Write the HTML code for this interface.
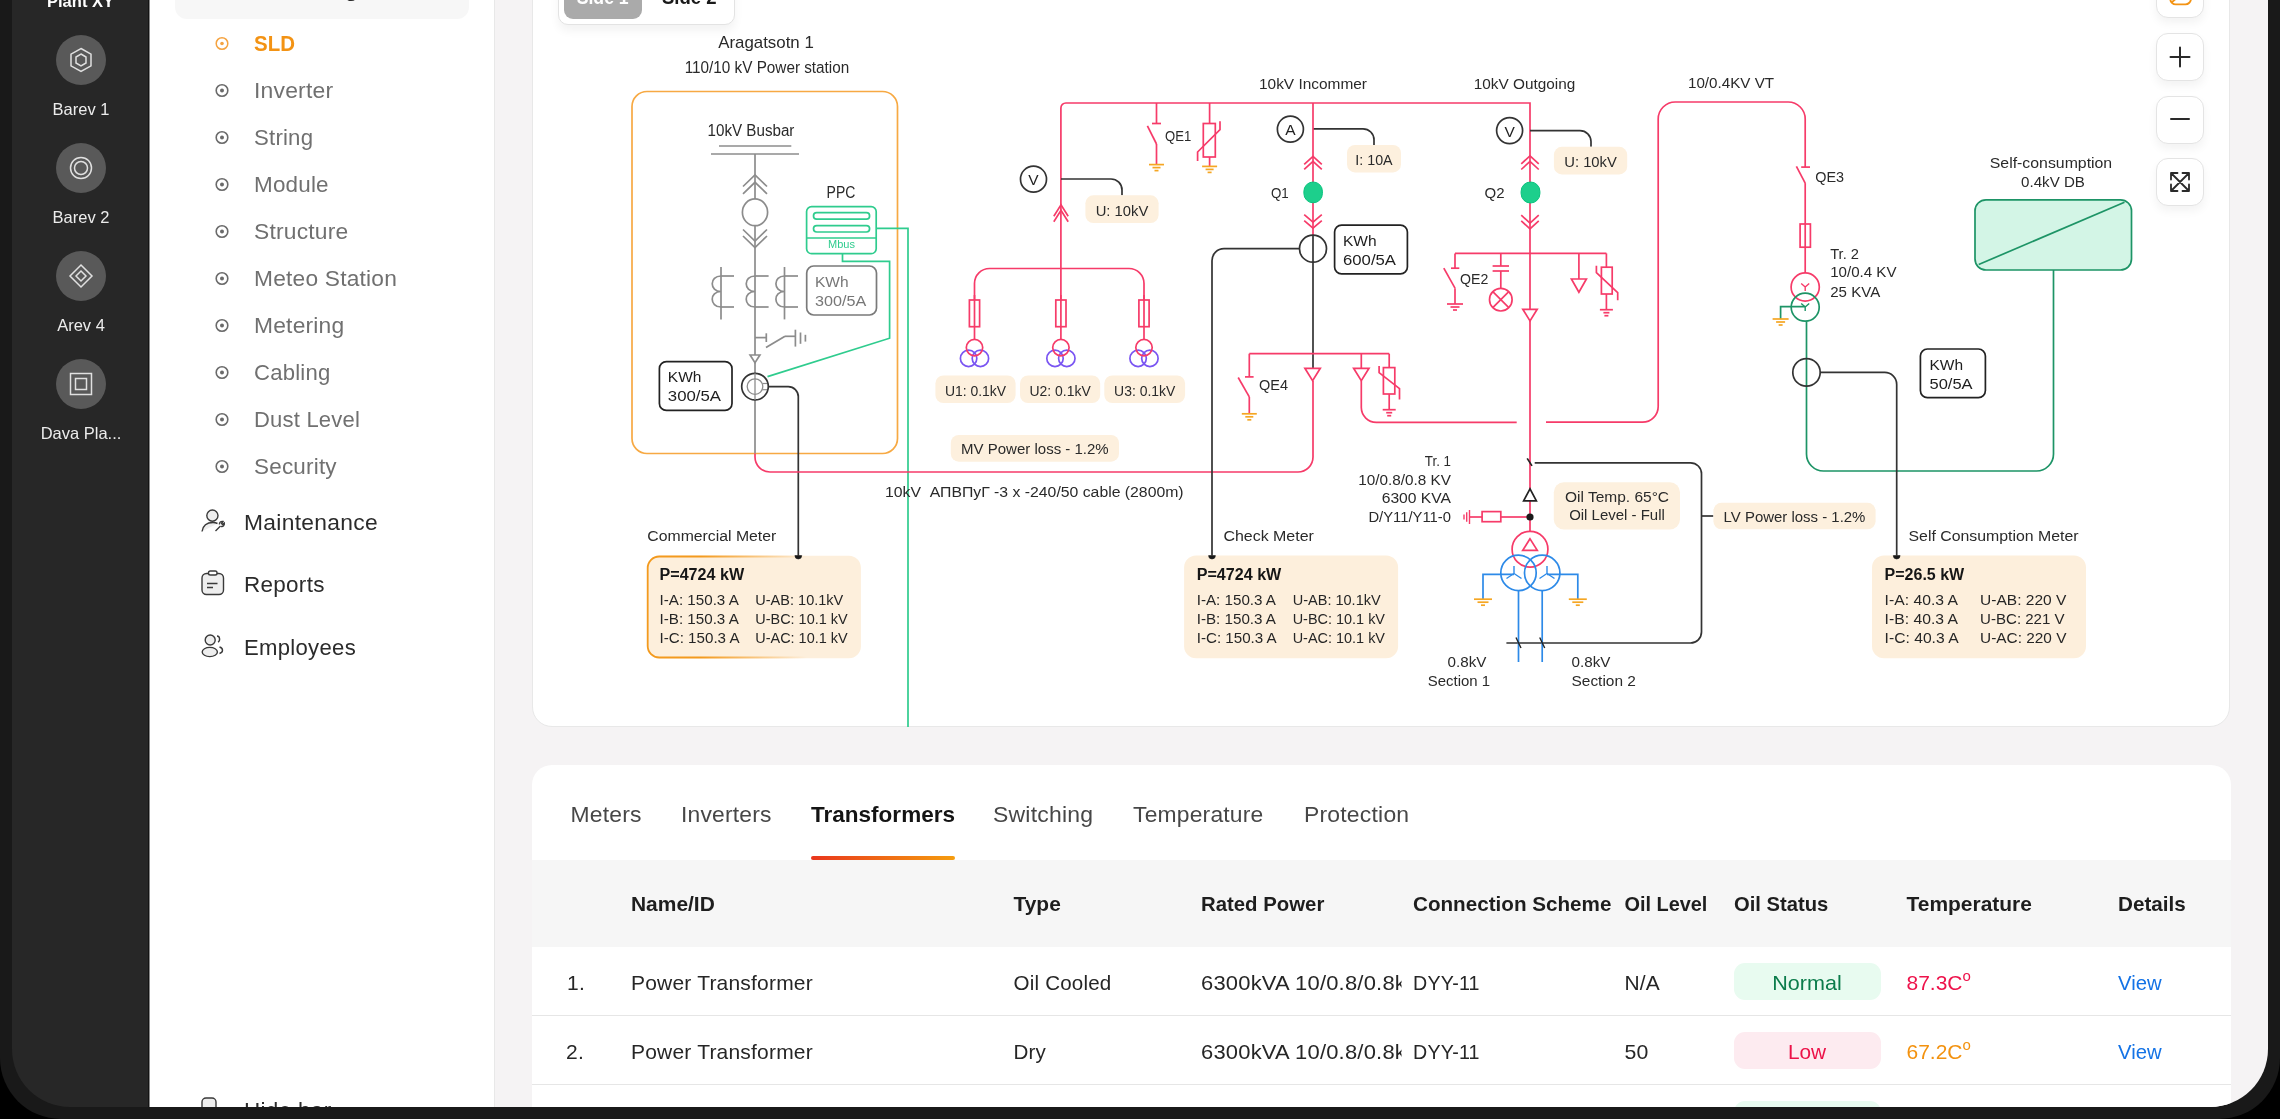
<!DOCTYPE html>
<html><head><meta charset="utf-8">
<style>
*{margin:0;padding:0;box-sizing:border-box}
html,body{width:2280px;height:1119px;overflow:hidden;background:#000;font-family:"Liberation Sans",sans-serif}
.frame{position:absolute;left:0;top:-200px;width:2280px;height:1319px;border-radius:61px;background:#191919}
.screen{position:absolute;left:12px;top:-200px;width:2256px;height:1307px;border-radius:58px;overflow:hidden}
.c{position:absolute;left:-12px;top:200px;width:2280px;height:1119px}
.abs{position:absolute}
.side{left:12px;top:0;width:137px;height:1119px;background:#272727;border-right:1px solid #141414}
.nav{left:149px;top:0;width:346px;height:1119px;background:#fff;border-left:1px solid #8a8a8a;border-right:1.5px solid #e8e8e8}
.card{left:532px;top:-40px;width:1698px;height:767px;background:#fff;border:1.5px solid #e8e8e8;border-radius:20px}
.tcard{left:532px;top:765px;width:1699px;height:400px;background:#fff;border-radius:20px;overflow:hidden}
.thbg{left:532px;top:859.5px;width:1699px;height:87px;background:#f6f6f6}
.rl{left:532px;width:1699px;height:1.5px;background:#e6e6e6}
.zb{position:absolute;left:2156px;width:48px;height:48px;border-radius:12px;background:#fff;border:1px solid #e4e4e4;box-shadow:0 5px 10px rgba(0,0,0,0.05)}
.pill{position:absolute;left:1733.5px;width:147.5px;height:37px;border-radius:11px}
svg text{font-family:"Liberation Sans",sans-serif}
svg.abs{will-change:transform}
</style></head><body>
<div class="frame"></div>
<div class="screen"><div class="c">
<div class="abs" style="left:480px;top:-10px;width:1800px;height:1140px;background:#f5f3f4"></div>
<div class="abs side"></div>
<div class="abs nav"></div>
<div class="abs" style="left:175px;top:-40px;width:294px;height:59px;border-radius:12px;background:#f7f7f7"></div>
<div class="abs card"></div>
<div class="abs tcard"></div>
<div class="abs thbg"></div>
<div class="abs rl" style="top:1014.5px"></div>
<div class="abs rl" style="top:1083.5px"></div>
<div class="pill" style="top:963px;background:#e8fbf0"></div>
<div class="pill" style="top:1032px;background:#fdebf0"></div>
<div class="pill" style="top:1101px;background:#e8fbf0"></div>
<div class="abs" style="left:811px;top:856px;width:144px;height:3.5px;border-radius:2px;background:linear-gradient(90deg,#e9361d,#f59d0e)"></div>
<!-- toggle -->
<div class="abs" style="left:558px;top:-30px;width:177px;height:54.5px;border-radius:10px;background:#fff;border:1px solid #e3e3e3;box-shadow:0 6px 10px rgba(0,0,0,0.05)"></div>
<div class="abs" style="left:563.6px;top:-30px;width:78px;height:49.3px;border-radius:9px;background:#aaaaaa"></div>
<!-- zoom buttons -->
<div class="zb" style="top:-29.6px"></div>
<div class="zb" style="top:33px"></div>
<div class="zb" style="top:95.5px"></div>
<div class="zb" style="top:158px"></div>

<svg class="abs" style="left:0;top:0" width="2280" height="1119" viewBox="0 0 2280 1119">
<defs><clipPath id="cl1"><rect x="1190" y="900" width="211.5" height="220"/></clipPath></defs>
<!-- UI text -->
<g font-family="Liberation Sans, sans-serif">
<text x="80.5" y="6.6" font-size="16.5" font-weight="bold" fill="#fff" text-anchor="middle">Plant XY</text>
<g fill="#595959"><circle cx="81" cy="60" r="25"/><circle cx="81" cy="168" r="25"/><circle cx="81" cy="276" r="25"/><circle cx="81" cy="384" r="25"/></g>
<g stroke="#e0e0e0" stroke-width="1.5" fill="none">
<polygon points="81,48.5 91,54.2 91,65.8 81,71.5 71,65.8 71,54.2"/>
<polygon points="81,54 86,57 86,63 81,66 76,63 76,57"/>
<circle cx="81" cy="168" r="10.5"/><circle cx="81" cy="168" r="6.5"/>
<polygon points="81,265 92,276 81,287 70,276"/><polygon points="81,271 86,276 81,281 76,276"/>
<rect x="70.5" y="373.5" width="21" height="21"/><rect x="75.5" y="378.5" width="11" height="11"/>
</g>
<g fill="#ececec" font-size="16.5" text-anchor="middle">
<text x="81" y="115">Barev 1</text><text x="81" y="223">Barev 2</text><text x="81" y="331">Arev 4</text><text x="81" y="439">Dava Pla...</text>
</g>
<!-- nav -->
<text x="245" y="-3.9" font-size="22.5" font-weight="bold" fill="#2b2b2b" textLength="113" lengthAdjust="spacingAndGlyphs">Monitoring</text>
<text x="254" y="51.2" font-size="22" font-weight="bold" fill="#f39314" textLength="40.9" lengthAdjust="spacingAndGlyphs">SLD</text>
<circle cx="222" cy="43.5" r="5.8" stroke="#f5a340" stroke-width="1.5" fill="none"/><circle cx="222" cy="43.5" r="1.8" fill="#f5a340"/>
<g fill="#707070" font-size="22" letter-spacing="0.2">
<text x="254" y="97.8" textLength="79.3" lengthAdjust="spacingAndGlyphs">Inverter</text><text x="254" y="144.8" textLength="59.2" lengthAdjust="spacingAndGlyphs">String</text><text x="254" y="191.8" textLength="74.8" lengthAdjust="spacingAndGlyphs">Module</text><text x="254" y="238.8" textLength="94.4" lengthAdjust="spacingAndGlyphs">Structure</text><text x="254" y="285.8" textLength="143.1" lengthAdjust="spacingAndGlyphs">Meteo Station</text><text x="254" y="332.8" textLength="90.4" lengthAdjust="spacingAndGlyphs">Metering</text><text x="254" y="379.8" textLength="76.4" lengthAdjust="spacingAndGlyphs">Cabling</text><text x="254" y="426.8" textLength="106.1" lengthAdjust="spacingAndGlyphs">Dust Level</text><text x="254" y="473.8" textLength="82.8" lengthAdjust="spacingAndGlyphs">Security</text>
</g>
<g stroke="#6a6a6a" stroke-width="1.6" fill="none">
<circle cx="222" cy="90.5" r="5.8"/><circle cx="222" cy="137.5" r="5.8"/><circle cx="222" cy="184.5" r="5.8"/><circle cx="222" cy="231.5" r="5.8"/><circle cx="222" cy="278.5" r="5.8"/><circle cx="222" cy="325.5" r="5.8"/><circle cx="222" cy="372.5" r="5.8"/><circle cx="222" cy="419.5" r="5.8"/><circle cx="222" cy="466.5" r="5.8"/>
</g>
<g fill="#6a6a6a">
<circle cx="222" cy="90.5" r="2"/><circle cx="222" cy="137.5" r="2"/><circle cx="222" cy="184.5" r="2"/><circle cx="222" cy="231.5" r="2"/><circle cx="222" cy="278.5" r="2"/><circle cx="222" cy="325.5" r="2"/><circle cx="222" cy="372.5" r="2"/><circle cx="222" cy="419.5" r="2"/><circle cx="222" cy="466.5" r="2"/>
</g>
<g fill="#2b2b2b" font-size="22.5" letter-spacing="0.3">
<text x="244" y="530" textLength="134" lengthAdjust="spacingAndGlyphs">Maintenance</text><text x="244" y="592" textLength="80.7" lengthAdjust="spacingAndGlyphs">Reports</text><text x="244" y="655" textLength="112" lengthAdjust="spacingAndGlyphs">Employees</text><text x="244" y="1117.5">Hide bar</text>
</g>
<g stroke="#3a3a3a" stroke-width="1.4" fill="none">
<!-- maintenance icon -->
<circle cx="212.4" cy="515.6" r="5.6" fill="#eee"/>
<path d="M202,531.5 C203,525 208,522.5 213,522.5 C215,522.5 216.5,523 217.5,523.5" fill="#eee"/>
<path d="M215.5,531 L220.5,526 M219.5,524.5 C219,522.5 221,521 223,521.5 L221.5,523.5 L222.5,524.5 L224.3,523 C224.8,525 223,527 221,526.3"/>
<!-- reports icon -->
<rect x="202" y="573.5" width="21.5" height="21" rx="4.5" fill="#eee"/>
<rect x="208.5" y="571" width="8.5" height="4" rx="1.8" fill="#fff"/>
<path d="M207,583.5 H217.5 M207,587.5 H213"/>
<!-- employees icon -->
<circle cx="210.2" cy="640" r="5" fill="#eee"/>
<ellipse cx="209.8" cy="652" rx="7.6" ry="4.6" fill="#eee"/>
<path d="M217,636 C220,636 220.5,641 218,642 M219.5,647 C223.5,648 223.5,652.5 219.5,653.5"/>
<!-- hide bar icon -->
<rect x="202" y="1098" width="14" height="24" rx="4" fill="#eee"/>
</g>
<!-- toggle text -->
<text x="576.7" y="4" font-size="20" font-weight="bold" fill="#fff" textLength="52" lengthAdjust="spacingAndGlyphs">Side 1</text>
<text x="662" y="4" font-size="20" font-weight="bold" fill="#1a1a1a" textLength="54.6" lengthAdjust="spacingAndGlyphs">Side 2</text>
<!-- zoom icons -->
<g stroke="#2a2a2a" stroke-width="2" fill="none" stroke-linecap="round">
<path d="M2180,47.5 V66.5 M2170.5,57 H2189.5"/>
<path d="M2171,119 H2189"/>
<path stroke-width="1.8" d="M2171,173 L2189,191 M2189,173 L2171,191 M2171,173 V179.5 M2171,173 H2177.5 M2189,173 H2182.5 M2189,173 V179.5 M2171,191 V184.5 M2171,191 H2177.5 M2189,191 H2182.5 M2189,191 V184.5"/>
</g>
<path d="M2170.3,-4 V-1 A5.5,5.5 0 0 0 2175.8,4.4 H2185.4 A5.5,5.5 0 0 0 2190.9,-1.1 V-5 M2172.6,1.6 L2175.6,-1" stroke="#f39314" stroke-width="1.9" fill="none" stroke-linecap="round"/>
<!-- tabs -->
<g font-size="22.5" fill="#474747" letter-spacing="0.2">
<text x="570.5" y="821.5" textLength="71.2" lengthAdjust="spacingAndGlyphs">Meters</text><text x="681" y="821.5" textLength="90.6" lengthAdjust="spacingAndGlyphs">Inverters</text><text x="993" y="821.5" textLength="100.2" lengthAdjust="spacingAndGlyphs">Switching</text><text x="1133" y="821.5" textLength="130.5" lengthAdjust="spacingAndGlyphs">Temperature</text><text x="1304" y="821.5" textLength="105.3" lengthAdjust="spacingAndGlyphs">Protection</text>
</g>
<text x="811" y="821.5" font-size="22.5" font-weight="bold" fill="#141414" textLength="144" lengthAdjust="spacingAndGlyphs">Transformers</text>
<!-- table -->
<g font-size="21" font-weight="bold" fill="#1e1e1e">
<text x="631" y="911" textLength="83.8" lengthAdjust="spacingAndGlyphs">Name/ID</text><text x="1013.5" y="911" textLength="47.3" lengthAdjust="spacingAndGlyphs">Type</text><text x="1201" y="911" textLength="123.3" lengthAdjust="spacingAndGlyphs">Rated Power</text><text x="1413" y="911" textLength="198.4" lengthAdjust="spacingAndGlyphs">Connection Scheme</text><text x="1624.5" y="911" textLength="82.9" lengthAdjust="spacingAndGlyphs">Oil Level</text><text x="1734" y="911" textLength="94.3" lengthAdjust="spacingAndGlyphs">Oil Status</text><text x="1906.5" y="911" textLength="125.4" lengthAdjust="spacingAndGlyphs">Temperature</text><text x="2118" y="911" textLength="67.8" lengthAdjust="spacingAndGlyphs">Details</text>
</g>
<g font-size="21" fill="#262626" letter-spacing="0.2">
<text x="567" y="989.6">1.</text><text x="631" y="989.6" textLength="181.9" lengthAdjust="spacingAndGlyphs">Power Transformer</text><text x="1013.5" y="989.6" textLength="98" lengthAdjust="spacingAndGlyphs">Oil Cooled</text><text x="1201" y="989.6" clip-path="url(#cl1)" textLength="205" lengthAdjust="spacingAndGlyphs">6300kVA 10/0.8/0.8k</text><text x="1413" y="989.6" textLength="66.7" lengthAdjust="spacingAndGlyphs">DYY-11</text><text x="1624.5" y="989.6" textLength="35.5" lengthAdjust="spacingAndGlyphs">N/A</text>
<text x="566" y="1058.6">2.</text><text x="631" y="1058.6" textLength="181.9" lengthAdjust="spacingAndGlyphs">Power Transformer</text><text x="1013.5" y="1058.6" textLength="32.6" lengthAdjust="spacingAndGlyphs">Dry</text><text x="1201" y="1058.6" clip-path="url(#cl1)" textLength="205" lengthAdjust="spacingAndGlyphs">6300kVA 10/0.8/0.8k</text><text x="1413" y="1058.6" textLength="66.7" lengthAdjust="spacingAndGlyphs">DYY-11</text><text x="1624.5" y="1058.6" textLength="24.1" lengthAdjust="spacingAndGlyphs">50</text>
</g>

<text x="1807" y="989.6" font-size="21" fill="#0b7c4b" text-anchor="middle" textLength="69.5" lengthAdjust="spacingAndGlyphs">Normal</text>
<text x="1807" y="1058.6" font-size="21" fill="#ec1248" text-anchor="middle" textLength="38.2" lengthAdjust="spacingAndGlyphs">Low</text>
<text x="1906.5" y="989.6" font-size="21" fill="#ee134b">87.3C<tspan dy="-8.5" font-size="15">o</tspan></text>
<text x="1906.5" y="1058.6" font-size="21" fill="#f3920f">67.2C<tspan dy="-8.5" font-size="15">o</tspan></text>
<text x="2118" y="989.6" font-size="21" fill="#1473e6" textLength="43.6" lengthAdjust="spacingAndGlyphs">View</text>
<text x="2118" y="1058.6" font-size="21" fill="#1473e6" textLength="43.6" lengthAdjust="spacingAndGlyphs">View</text>
</g>
<!-- DIAGRAM -->
<g font-family="Liberation Sans, sans-serif">
<defs><linearGradient id="ogr" x1="0" y1="0" x2="1" y2="0"><stop offset="0" stop-color="#f39a1e"/><stop offset="0.25" stop-color="#f39a1e"/><stop offset="0.75" stop-color="#f39a1e" stop-opacity="0"/></linearGradient></defs>
<text x="766" y="48.3" font-size="17" fill="#2a2a2a" text-anchor="middle" font-weight="normal" letter-spacing="0"  textLength="95.7" lengthAdjust="spacingAndGlyphs">Aragatsotn 1</text>
<text x="767" y="72.9" font-size="16" fill="#2a2a2a" text-anchor="middle" font-weight="normal" letter-spacing="0"  textLength="164.5" lengthAdjust="spacingAndGlyphs">110/10 kV Power station</text>
<rect x="632" y="91.5" width="265.5" height="362" rx="15" stroke="#f7a943" fill="none" stroke-width="1.7"/>
<text x="751" y="135.5" font-size="16" fill="#2a2a2a" text-anchor="middle" font-weight="normal" letter-spacing="0"  textLength="86.8" lengthAdjust="spacingAndGlyphs">10kV Busbar</text>
<line x1="719" y1="146" x2="791.3" y2="146" stroke="#8c8c8c" stroke-width="1.7"/>
<line x1="711" y1="154" x2="799" y2="154" stroke="#8c8c8c" stroke-width="1.7"/>
<line x1="755" y1="154" x2="755" y2="453.6" stroke="#8c8c8c" stroke-width="1.7"/>
<path d="M743,186.5 L755,175 L767,186.5" stroke="#8c8c8c" stroke-width="1.7" fill="none"/>
<path d="M743,193.8 L755,182.3 L767,193.8" stroke="#8c8c8c" stroke-width="1.7" fill="none"/>
<ellipse cx="755" cy="212.3" rx="12.6" ry="13.4" stroke="#8c8c8c" fill="#fff" stroke-width="1.7"/>
<path d="M743,229.5 L755,241 L767,229.5" stroke="#8c8c8c" stroke-width="1.7" fill="none"/>
<path d="M743,236.0 L755,247.5 L767,236.0" stroke="#8c8c8c" stroke-width="1.7" fill="none"/>
<line x1="721" y1="267" x2="721" y2="319.4" stroke="#8c8c8c" stroke-width="1.7"/>
<path d="M721,276 C709.3,276 709.3,291.5 721,291.5 C709.3,291.5 709.3,307 721,307" stroke="#8c8c8c" stroke-width="1.7" fill="none"/>
<line x1="721" y1="276" x2="734" y2="276" stroke="#8c8c8c" stroke-width="1.7"/>
<line x1="721" y1="307" x2="734" y2="307" stroke="#8c8c8c" stroke-width="1.7"/>
<path d="M755,276 C743.3,276 743.3,291.5 755,291.5 C743.3,291.5 743.3,307 755,307" stroke="#8c8c8c" stroke-width="1.7" fill="none"/>
<line x1="755" y1="276" x2="768.6" y2="276" stroke="#8c8c8c" stroke-width="1.7"/>
<line x1="755" y1="307" x2="768.6" y2="307" stroke="#8c8c8c" stroke-width="1.7"/>
<line x1="784.5" y1="267" x2="784.5" y2="319.4" stroke="#8c8c8c" stroke-width="1.7"/>
<path d="M784.5,276 C773.06,276 773.06,291.5 784.5,291.5 C773.06,291.5 773.06,307 784.5,307" stroke="#8c8c8c" stroke-width="1.7" fill="none"/>
<line x1="784.5" y1="276" x2="798.0" y2="276" stroke="#8c8c8c" stroke-width="1.7"/>
<line x1="784.5" y1="307" x2="798.0" y2="307" stroke="#8c8c8c" stroke-width="1.7"/>
<rect x="806.7" y="266" width="69.8" height="49" rx="7" stroke="#7a7a7a" fill="#fff" stroke-width="1.7"/>
<text x="815" y="286.6" font-size="15.5" fill="#777" text-anchor="start" font-weight="normal" letter-spacing="0" >KWh</text>
<text x="815" y="305.7" font-size="15.5" fill="#777" text-anchor="start" font-weight="normal" letter-spacing="0"  textLength="51.2" lengthAdjust="spacingAndGlyphs">300/5A</text>
<line x1="755" y1="337.6" x2="766.3" y2="337.6" stroke="#8c8c8c" stroke-width="1.7"/>
<line x1="766.3" y1="333.3" x2="766.3" y2="342" stroke="#8c8c8c" stroke-width="1.7"/>
<line x1="766" y1="347.6" x2="785" y2="336.3" stroke="#8c8c8c" stroke-width="1.7"/>
<line x1="785" y1="336.3" x2="795.4" y2="336.3" stroke="#8c8c8c" stroke-width="1.7"/>
<line x1="795.4" y1="329.7" x2="795.4" y2="346.6" stroke="#8c8c8c" stroke-width="1.7"/>
<line x1="800.5" y1="332.5" x2="800.5" y2="343.8" stroke="#8c8c8c" stroke-width="1.7"/>
<line x1="805.4" y1="334.8" x2="805.4" y2="341.6" stroke="#8c8c8c" stroke-width="1.7"/>
<polygon points="750.1,355 759.9,355 755,362.6" stroke="#8c8c8c" fill="#fff" stroke-width="1.7"/>
<circle cx="755" cy="386.6" r="13.3" stroke="#333333" fill="#fff" stroke-width="1.7"/>
<circle cx="755" cy="386.6" r="7.8" stroke="#8c8c8c" fill="none" stroke-width="1.3"/>
<line x1="755" y1="373.3" x2="755" y2="399.9" stroke="#8c8c8c" stroke-width="1.3"/>
<line x1="762.5" y1="383.5" x2="767" y2="383.5" stroke="#8c8c8c" stroke-width="1.2"/>
<line x1="762.5" y1="389.7" x2="767" y2="389.7" stroke="#8c8c8c" stroke-width="1.2"/>
<rect x="659.4" y="361.6" width="72.6" height="48.8" rx="7" stroke="#222" fill="#fff" stroke-width="1.7"/>
<text x="667.8" y="382.3" font-size="15.5" fill="#1e1e1e" text-anchor="start" font-weight="normal" letter-spacing="0" >KWh</text>
<text x="667.8" y="401" font-size="15.5" fill="#1e1e1e" text-anchor="start" font-weight="normal" letter-spacing="0"  textLength="53.2" lengthAdjust="spacingAndGlyphs">300/5A</text>
<path d="M842.5,253.7 V261.3 H889.6 V338.2 L767.5,376.6" stroke="#2fcc8e" stroke-width="1.7" fill="none"/>
<path d="M876.2,228.3 H908 V727" stroke="#2fcc8e" stroke-width="1.7" fill="none"/>
<text x="841" y="197.9" font-size="16" fill="#2a2a2a" text-anchor="middle" font-weight="normal" letter-spacing="0"  textLength="28.8" lengthAdjust="spacingAndGlyphs">PPC</text>
<rect x="806.6" y="206.6" width="69.6" height="47.1" rx="5" stroke="#2fcc8e" fill="#fff" stroke-width="1.7"/>
<rect x="813.5" y="212.7" width="56.1" height="6.4" rx="3.2" stroke="#2fcc8e" fill="none" stroke-width="1.7"/>
<rect x="813.5" y="225.6" width="56.1" height="6.4" rx="3.2" stroke="#2fcc8e" fill="none" stroke-width="1.7"/>
<line x1="806.6" y1="238" x2="876.2" y2="238" stroke="#2fcc8e" stroke-width="1.7"/>
<text x="841.5" y="248.3" font-size="11" fill="#2fcc8e" text-anchor="middle" font-weight="normal" letter-spacing="0" >Mbus</text>
<path d="M768.3,386.6 H788.3 A10,10 0 0 1 798.3,396.6 V556" stroke="#333333" stroke-width="1.7" fill="none"/>
<path d="M755,453.6 V457 A15,15 0 0 0 770,472 H1298 A15,15 0 0 0 1313,457 V380.7" stroke="#f63b69" stroke-width="1.7" fill="none"/>
<path d="M1060.9,300 V108 A5,5 0 0 1 1065.9,103 H1530 V531.3" stroke="#f63b69" stroke-width="1.7" fill="none"/>
<circle cx="1033.5" cy="179.2" r="13" stroke="#333333" fill="#fff" stroke-width="1.7"/>
<text x="1033.5" y="185.3" font-size="15.5" fill="#222" text-anchor="middle" font-weight="normal" letter-spacing="0" >V</text>
<path d="M1061,179 H1111 A11,11 0 0 1 1122,190 V195.3" stroke="#333333" stroke-width="1.7" fill="none"/>
<rect x="1085.4" y="195.3" width="73.2" height="27.7" rx="8" stroke="none" fill="#fdf0de" stroke-width="1.7"/>
<text x="1122.0" y="215.5" font-size="15.5" fill="#2a2a2a" text-anchor="middle" font-weight="normal" letter-spacing="0"  textLength="52.6" lengthAdjust="spacingAndGlyphs">U: 10kV</text>
<path d="M1053.8,216.3 L1061,204.8 L1068.2,216.3" stroke="#f63b69" stroke-width="1.7" fill="none"/>
<path d="M1053.8,221.8 L1061,210.3 L1068.2,221.8" stroke="#f63b69" stroke-width="1.7" fill="none"/>
<path d="M974.5,300 V283.5 A15,15 0 0 1 989.5,268.5 H1129 A15,15 0 0 1 1144,283.5 V300" stroke="#f63b69" stroke-width="1.7" fill="none"/>
<rect x="969.4" y="300" width="10.2" height="26.7" rx="0" stroke="#f63b69" fill="none" stroke-width="1.7"/>
<line x1="974.5" y1="295" x2="974.5" y2="339.4" stroke="#f63b69" stroke-width="1.7"/>
<circle cx="968.6" cy="358.4" r="8.2" stroke="#7a55f2" fill="none" stroke-width="1.7"/>
<circle cx="980.4" cy="358.4" r="8.2" stroke="#7a55f2" fill="none" stroke-width="1.7"/>
<circle cx="974.5" cy="347.6" r="8.2" stroke="#f63b69" fill="none" stroke-width="1.7"/>
<rect x="1055.8000000000002" y="300" width="10.2" height="26.7" rx="0" stroke="#f63b69" fill="none" stroke-width="1.7"/>
<line x1="1060.9" y1="295" x2="1060.9" y2="339.4" stroke="#f63b69" stroke-width="1.7"/>
<circle cx="1055.0" cy="358.4" r="8.2" stroke="#7a55f2" fill="none" stroke-width="1.7"/>
<circle cx="1066.8000000000002" cy="358.4" r="8.2" stroke="#7a55f2" fill="none" stroke-width="1.7"/>
<circle cx="1060.9" cy="347.6" r="8.2" stroke="#f63b69" fill="none" stroke-width="1.7"/>
<rect x="1138.9" y="300" width="10.2" height="26.7" rx="0" stroke="#f63b69" fill="none" stroke-width="1.7"/>
<line x1="1144" y1="295" x2="1144" y2="339.4" stroke="#f63b69" stroke-width="1.7"/>
<circle cx="1138.1" cy="358.4" r="8.2" stroke="#7a55f2" fill="none" stroke-width="1.7"/>
<circle cx="1149.9" cy="358.4" r="8.2" stroke="#7a55f2" fill="none" stroke-width="1.7"/>
<circle cx="1144" cy="347.6" r="8.2" stroke="#f63b69" fill="none" stroke-width="1.7"/>
<rect x="935.4" y="375.4" width="80.2" height="27.7" rx="8" stroke="none" fill="#fdf0de" stroke-width="1.7"/>
<text x="975.5" y="395.59999999999997" font-size="15.5" fill="#2a2a2a" text-anchor="middle" font-weight="normal" letter-spacing="0"  textLength="61.2" lengthAdjust="spacingAndGlyphs">U1: 0.1kV</text>
<rect x="1020" y="375.4" width="80.2" height="27.7" rx="8" stroke="none" fill="#fdf0de" stroke-width="1.7"/>
<text x="1060.1" y="395.59999999999997" font-size="15.5" fill="#2a2a2a" text-anchor="middle" font-weight="normal" letter-spacing="0"  textLength="61.2" lengthAdjust="spacingAndGlyphs">U2: 0.1kV</text>
<rect x="1104.3" y="375.4" width="80.8" height="27.7" rx="8" stroke="none" fill="#fdf0de" stroke-width="1.7"/>
<text x="1144.7" y="395.59999999999997" font-size="15.5" fill="#2a2a2a" text-anchor="middle" font-weight="normal" letter-spacing="0"  textLength="61.2" lengthAdjust="spacingAndGlyphs">U3: 0.1kV</text>
<rect x="950.8" y="435" width="168.2" height="26.7" rx="8" stroke="none" fill="#fdf0de" stroke-width="1.7"/>
<text x="1034.8999999999999" y="454.2" font-size="15.5" fill="#2a2a2a" text-anchor="middle" font-weight="normal" letter-spacing="0"  textLength="147.6" lengthAdjust="spacingAndGlyphs">MV Power loss - 1.2%</text>
<line x1="1156.5" y1="103" x2="1156.5" y2="123.5" stroke="#f63b69" stroke-width="1.7"/>
<line x1="1152" y1="123.5" x2="1161" y2="123.5" stroke="#f63b69" stroke-width="1.7"/>
<line x1="1147.4" y1="125.8" x2="1156.5" y2="144" stroke="#f63b69" stroke-width="1.7"/>
<line x1="1156.5" y1="144" x2="1156.5" y2="164.6" stroke="#f63b69" stroke-width="1.7"/>
<line x1="1149.0" y1="164.6" x2="1164.0" y2="164.6" stroke="#f5a623" stroke-width="1.7"/>
<line x1="1152.5" y1="167.6" x2="1160.5" y2="167.6" stroke="#f5a623" stroke-width="1.7"/>
<line x1="1154.5" y1="170.6" x2="1158.5" y2="170.6" stroke="#f5a623" stroke-width="1.7"/>
<text x="1165" y="141.3" font-size="15.5" fill="#2a2a2a" text-anchor="start" font-weight="normal" letter-spacing="0"  textLength="26.2" lengthAdjust="spacingAndGlyphs">QE1</text>
<line x1="1209.6" y1="103" x2="1209.6" y2="123.5" stroke="#f63b69" stroke-width="1.7"/>
<rect x="1203.3" y="123.5" width="12" height="33.5" rx="0" stroke="#f63b69" fill="#fff" stroke-width="1.7"/>
<line x1="1209.6" y1="157" x2="1209.6" y2="166.4" stroke="#f63b69" stroke-width="1.7"/>
<line x1="1202.1" y1="166.4" x2="1217.1" y2="166.4" stroke="#f5a623" stroke-width="1.7"/>
<line x1="1205.6" y1="169.4" x2="1213.6" y2="169.4" stroke="#f5a623" stroke-width="1.7"/>
<line x1="1207.6" y1="172.4" x2="1211.6" y2="172.4" stroke="#f5a623" stroke-width="1.7"/>
<path d="M1197.6,161 V152 L1220,129.7 V121.3" stroke="#f63b69" stroke-width="1.7" fill="none"/>
<text x="1313" y="88.5" font-size="15.5" fill="#2a2a2a" text-anchor="middle" font-weight="normal" letter-spacing="0"  textLength="108" lengthAdjust="spacingAndGlyphs">10kV Incommer</text>
<circle cx="1290.4" cy="129.2" r="13" stroke="#333333" fill="#fff" stroke-width="1.7"/>
<text x="1290.4" y="135.1" font-size="15.5" fill="#222" text-anchor="middle" font-weight="normal" letter-spacing="0" >A</text>
<path d="M1313,128.8 H1363 A11,11 0 0 1 1374,139.8 V145" stroke="#333333" stroke-width="1.7" fill="none"/>
<rect x="1347" y="145" width="54" height="27.4" rx="8" stroke="none" fill="#fdf0de" stroke-width="1.7"/>
<text x="1374.0" y="164.9" font-size="15.5" fill="#2a2a2a" text-anchor="middle" font-weight="normal" letter-spacing="0"  textLength="37.3" lengthAdjust="spacingAndGlyphs">I: 10A</text>
<line x1="1313" y1="103" x2="1313" y2="236" stroke="#f63b69" stroke-width="1.7"/>
<path d="M1304.2,164.3 L1313,156.3 L1321.8,164.3" stroke="#f63b69" stroke-width="1.7" fill="none"/>
<path d="M1304.2,169.3 L1313,161.3 L1321.8,169.3" stroke="#f63b69" stroke-width="1.7" fill="none"/>
<rect x="1303.9" y="182" width="18.5" height="20.8" rx="9.2" stroke="#07c27c" fill="#1dcf8c" stroke-width="1"/>
<text x="1271" y="197.6" font-size="15.5" fill="#2a2a2a" text-anchor="start" font-weight="normal" letter-spacing="0"  textLength="17.8" lengthAdjust="spacingAndGlyphs">Q1</text>
<path d="M1304.2,214.7 L1313,222.2 L1321.8,214.7" stroke="#f63b69" stroke-width="1.7" fill="none"/>
<path d="M1304.2,220.6 L1313,228.1 L1321.8,220.6" stroke="#f63b69" stroke-width="1.7" fill="none"/>
<circle cx="1313" cy="248.7" r="13.5" stroke="#333333" fill="none" stroke-width="1.7"/>
<line x1="1313" y1="236" x2="1313" y2="368.3" stroke="#333333" stroke-width="1.7"/>
<path d="M1299.5,248.7 H1224 A12,12 0 0 0 1212,260.7 V556" stroke="#333333" stroke-width="1.7" fill="none"/>
<rect x="1334.6" y="225.1" width="72.8" height="48.8" rx="7" stroke="#222" fill="#fff" stroke-width="1.7"/>
<text x="1343" y="245.7" font-size="15.5" fill="#1e1e1e" text-anchor="start" font-weight="normal" letter-spacing="0" >KWh</text>
<text x="1343" y="265" font-size="15.5" fill="#1e1e1e" text-anchor="start" font-weight="normal" letter-spacing="0"  textLength="53" lengthAdjust="spacingAndGlyphs">600/5A</text>
<line x1="1249.3" y1="353.7" x2="1389.2" y2="353.7" stroke="#f63b69" stroke-width="1.7"/>
<line x1="1249.3" y1="353.7" x2="1249.3" y2="376.9" stroke="#f63b69" stroke-width="1.7"/>
<line x1="1245" y1="376.9" x2="1253.6" y2="376.9" stroke="#f63b69" stroke-width="1.7"/>
<line x1="1238.2" y1="377.5" x2="1249.3" y2="396.8" stroke="#f63b69" stroke-width="1.7"/>
<line x1="1249.3" y1="396.8" x2="1249.3" y2="413.8" stroke="#f63b69" stroke-width="1.7"/>
<line x1="1241.8" y1="413.8" x2="1256.8" y2="413.8" stroke="#f5a623" stroke-width="1.7"/>
<line x1="1245.3" y1="416.8" x2="1253.3" y2="416.8" stroke="#f5a623" stroke-width="1.7"/>
<line x1="1247.3" y1="419.8" x2="1251.3" y2="419.8" stroke="#f5a623" stroke-width="1.7"/>
<text x="1259" y="390.4" font-size="15.5" fill="#2a2a2a" text-anchor="start" font-weight="normal" letter-spacing="0"  textLength="29" lengthAdjust="spacingAndGlyphs">QE4</text>
<polygon points="1304.8999999999999,368.3 1320.3,368.3 1312.6,380.7" stroke="#f63b69" fill="#fff" stroke-width="1.7"/>
<line x1="1361.3" y1="353.7" x2="1361.3" y2="368.3" stroke="#f63b69" stroke-width="1.7"/>
<polygon points="1353.6,368.3 1369.0,368.3 1361.3,380.7" stroke="#f63b69" fill="#fff" stroke-width="1.7"/>
<path d="M1361.3,380.7 V407.6 A15,15 0 0 0 1376.3,422.4 H1516.7" stroke="#f63b69" stroke-width="1.7" fill="none"/>
<line x1="1389.2" y1="353.7" x2="1389.2" y2="367.6" stroke="#f63b69" stroke-width="1.7"/>
<rect x="1383.4" y="367.6" width="11.4" height="26.4" rx="0" stroke="#f63b69" fill="#fff" stroke-width="1.7"/>
<line x1="1389.2" y1="394" x2="1389.2" y2="409.7" stroke="#f63b69" stroke-width="1.7"/>
<line x1="1382.7" y1="409.7" x2="1395.7" y2="409.7" stroke="#f63b69" stroke-width="1.7"/>
<line x1="1386.2" y1="412.7" x2="1392.2" y2="412.7" stroke="#f63b69" stroke-width="1.7"/>
<line x1="1387.2" y1="415.7" x2="1391.2" y2="415.7" stroke="#f63b69" stroke-width="1.7"/>
<path d="M1379.1,366.1 V372.6 L1399.5,388.7 V399.4" stroke="#f63b69" stroke-width="1.7" fill="none"/>
<text x="1524.5" y="88.8" font-size="15.5" fill="#2a2a2a" text-anchor="middle" font-weight="normal" letter-spacing="0"  textLength="101.4" lengthAdjust="spacingAndGlyphs">10kV Outgoing</text>
<circle cx="1509.6" cy="130.6" r="13" stroke="#333333" fill="#fff" stroke-width="1.7"/>
<text x="1509.6" y="136.5" font-size="15.5" fill="#222" text-anchor="middle" font-weight="normal" letter-spacing="0" >V</text>
<path d="M1530,130.6 H1580 A11,11 0 0 1 1591,141.6 V146.8" stroke="#333333" stroke-width="1.7" fill="none"/>
<rect x="1553.9" y="146.8" width="73.3" height="27.6" rx="8" stroke="none" fill="#fdf0de" stroke-width="1.7"/>
<text x="1590.5500000000002" y="166.9" font-size="15.5" fill="#2a2a2a" text-anchor="middle" font-weight="normal" letter-spacing="0"  textLength="52.6" lengthAdjust="spacingAndGlyphs">U: 10kV</text>
<path d="M1521.25,163.9 L1530,155.8 L1538.75,163.9" stroke="#f63b69" stroke-width="1.7" fill="none"/>
<path d="M1521.25,169.5 L1530,161.4 L1538.75,169.5" stroke="#f63b69" stroke-width="1.7" fill="none"/>
<rect x="1521.1" y="182" width="18.8" height="21" rx="9.4" stroke="#07c27c" fill="#1dcf8c" stroke-width="1"/>
<text x="1484.6" y="198.1" font-size="15.5" fill="#2a2a2a" text-anchor="start" font-weight="normal" letter-spacing="0"  textLength="20" lengthAdjust="spacingAndGlyphs">Q2</text>
<path d="M1521.25,215.2 L1530,223.2 L1538.75,215.2" stroke="#f63b69" stroke-width="1.7" fill="none"/>
<path d="M1521.25,220.9 L1530,228.9 L1538.75,220.9" stroke="#f63b69" stroke-width="1.7" fill="none"/>
<line x1="1455" y1="253.4" x2="1606.4" y2="253.4" stroke="#f63b69" stroke-width="1.7"/>
<line x1="1455" y1="253.4" x2="1455" y2="268.2" stroke="#f63b69" stroke-width="1.7"/>
<line x1="1451" y1="268.2" x2="1459.3" y2="268.2" stroke="#f63b69" stroke-width="1.7"/>
<line x1="1443.8" y1="268.2" x2="1455" y2="288.2" stroke="#f63b69" stroke-width="1.7"/>
<line x1="1455" y1="288.2" x2="1455" y2="304" stroke="#f63b69" stroke-width="1.7"/>
<line x1="1447.0" y1="304" x2="1463.0" y2="304" stroke="#f63b69" stroke-width="1.7"/>
<line x1="1450.5" y1="307" x2="1459.5" y2="307" stroke="#f63b69" stroke-width="1.7"/>
<line x1="1453" y1="310" x2="1457" y2="310" stroke="#f63b69" stroke-width="1.7"/>
<text x="1460" y="283.5" font-size="15.5" fill="#2a2a2a" text-anchor="start" font-weight="normal" letter-spacing="0"  textLength="28.3" lengthAdjust="spacingAndGlyphs">QE2</text>
<line x1="1500.8" y1="253.4" x2="1500.8" y2="266" stroke="#f63b69" stroke-width="1.7"/>
<line x1="1492.6" y1="266" x2="1509" y2="266" stroke="#f63b69" stroke-width="1.7"/>
<line x1="1492.6" y1="271" x2="1509" y2="271" stroke="#f63b69" stroke-width="1.7"/>
<line x1="1500.8" y1="271" x2="1500.8" y2="288.4" stroke="#f63b69" stroke-width="1.7"/>
<circle cx="1500.8" cy="299.7" r="11.3" stroke="#f63b69" fill="#fff" stroke-width="1.7"/>
<line x1="1492.8" y1="291.7" x2="1508.8" y2="307.7" stroke="#f63b69" stroke-width="1.7"/>
<line x1="1508.8" y1="291.7" x2="1492.8" y2="307.7" stroke="#f63b69" stroke-width="1.7"/>
<line x1="1578.9" y1="253.4" x2="1578.9" y2="279" stroke="#f63b69" stroke-width="1.7"/>
<polygon points="1571.4,279 1586.4,279 1578.9,292.2" stroke="#f63b69" fill="#fff" stroke-width="1.7"/>
<line x1="1606.4" y1="253.4" x2="1606.4" y2="267.2" stroke="#f63b69" stroke-width="1.7"/>
<rect x="1601.4" y="267.2" width="10.8" height="26.8" rx="0" stroke="#f63b69" fill="#fff" stroke-width="1.7"/>
<line x1="1606.4" y1="294" x2="1606.4" y2="309.7" stroke="#f63b69" stroke-width="1.7"/>
<line x1="1599.9" y1="309.7" x2="1612.9" y2="309.7" stroke="#f63b69" stroke-width="1.7"/>
<line x1="1603.4" y1="312.7" x2="1609.4" y2="312.7" stroke="#f63b69" stroke-width="1.7"/>
<line x1="1604.4" y1="315.7" x2="1608.4" y2="315.7" stroke="#f63b69" stroke-width="1.7"/>
<path d="M1596.4,265.7 V272.7 L1617.7,292.7 V300.2" stroke="#f63b69" stroke-width="1.7" fill="none"/>
<polygon points="1522.8,309.3 1537.2,309.3 1530,320.9" stroke="#f63b69" fill="#fff" stroke-width="1.7"/>
<path d="M1546,422.2 H1642.5 A15.7,15.7 0 0 0 1658.2,406.5 V119 A17,17 0 0 1 1675.2,102 H1788.2 A17,17 0 0 1 1805.2,119 V167.1" stroke="#f63b69" stroke-width="1.7" fill="none"/>
<text x="1731" y="88" font-size="15.5" fill="#2a2a2a" text-anchor="middle" font-weight="normal" letter-spacing="0"  textLength="86.1" lengthAdjust="spacingAndGlyphs">10/0.4KV VT</text>
<line x1="1801.2" y1="167.1" x2="1810" y2="167.1" stroke="#f63b69" stroke-width="1.7"/>
<line x1="1796.4" y1="166.4" x2="1805.2" y2="183.1" stroke="#f63b69" stroke-width="1.7"/>
<line x1="1805.2" y1="183.1" x2="1805.2" y2="272.9" stroke="#f63b69" stroke-width="1.7"/>
<rect x="1800.1" y="224" width="10.3" height="23.2" rx="0" stroke="#f63b69" fill="none" stroke-width="1.7"/>
<text x="1815.2" y="182.1" font-size="15.5" fill="#2a2a2a" text-anchor="start" font-weight="normal" letter-spacing="0"  textLength="28.8" lengthAdjust="spacingAndGlyphs">QE3</text>
<circle cx="1805.2" cy="287" r="14.1" stroke="#f63b69" fill="#fff" stroke-width="1.7"/>
<circle cx="1805.2" cy="307.2" r="14" stroke="#1d9466" fill="none" stroke-width="1.7"/>
<path d="M1805.2,291 V287 M1805.2,287 L1801.2,283.5 M1805.2,287 L1809.2,283.5" stroke="#f63b69" stroke-width="1.4" fill="none"/>
<path d="M1805.2,311 V307 M1805.2,307 L1801.2,303.5 M1805.2,307 L1809.2,303.5" stroke="#1d9466" stroke-width="1.4" fill="none"/>
<path d="M1805.2,306.6 H1780.6 V319" stroke="#1d9466" stroke-width="1.7" fill="none"/>
<line x1="1772.6" y1="319" x2="1788.6" y2="319" stroke="#f5a623" stroke-width="1.7"/>
<line x1="1776.1" y1="322" x2="1785.1" y2="322" stroke="#f5a623" stroke-width="1.7"/>
<line x1="1778.6" y1="325" x2="1782.6" y2="325" stroke="#f5a623" stroke-width="1.7"/>
<text x="1830.2" y="259" font-size="15.5" fill="#2a2a2a" text-anchor="start" font-weight="normal" letter-spacing="0"  textLength="28.8" lengthAdjust="spacingAndGlyphs">Tr. 2</text>
<text x="1830.2" y="277.2" font-size="15.5" fill="#2a2a2a" text-anchor="start" font-weight="normal" letter-spacing="0"  textLength="66.3" lengthAdjust="spacingAndGlyphs">10/0.4 KV</text>
<text x="1830.2" y="296.5" font-size="15.5" fill="#2a2a2a" text-anchor="start" font-weight="normal" letter-spacing="0"  textLength="50" lengthAdjust="spacingAndGlyphs">25 KVA</text>
<path d="M1806.5,321.2 V454 A17,17 0 0 0 1823.5,471 H2036.5 A17,17 0 0 0 2053.5,454 V270" stroke="#1d9466" stroke-width="1.7" fill="none"/>
<circle cx="1806.5" cy="372.4" r="13.7" stroke="#333333" fill="none" stroke-width="1.7"/>
<path d="M1820.2,372.4 H1884.5 A12,12 0 0 1 1896.7,384.4 V556" stroke="#333333" stroke-width="1.7" fill="none"/>
<rect x="1920.4" y="349" width="65" height="48.6" rx="7" stroke="#222" fill="#fff" stroke-width="1.7"/>
<text x="1929.5" y="370.3" font-size="15.5" fill="#1e1e1e" text-anchor="start" font-weight="normal" letter-spacing="0" >KWh</text>
<text x="1929.5" y="389.1" font-size="15.5" fill="#1e1e1e" text-anchor="start" font-weight="normal" letter-spacing="0"  textLength="43.1" lengthAdjust="spacingAndGlyphs">50/5A</text>
<rect x="1975" y="199.8" width="156.5" height="70.2" rx="11" stroke="#1d9466" fill="#d3f5e6" stroke-width="1.7"/>
<line x1="1978.7" y1="264.5" x2="2124.5" y2="202.3" stroke="#1d9466" stroke-width="1.7"/>
<text x="2051" y="168" font-size="15.5" fill="#2a2a2a" text-anchor="middle" font-weight="normal" letter-spacing="0"  textLength="122.4" lengthAdjust="spacingAndGlyphs">Self-consumption</text>
<text x="2053" y="187" font-size="15.5" fill="#2a2a2a" text-anchor="middle" font-weight="normal" letter-spacing="0"  textLength="63.8" lengthAdjust="spacingAndGlyphs">0.4kV DB</text>
<text x="1451" y="465.9" font-size="15.5" fill="#2a2a2a" text-anchor="end" font-weight="normal" letter-spacing="0"  textLength="26.2" lengthAdjust="spacingAndGlyphs">Tr. 1</text>
<text x="1451" y="484.8" font-size="15.5" fill="#2a2a2a" text-anchor="end" font-weight="normal" letter-spacing="0"  textLength="92.7" lengthAdjust="spacingAndGlyphs">10/0.8/0.8 KV</text>
<text x="1451" y="503.4" font-size="15.5" fill="#2a2a2a" text-anchor="end" font-weight="normal" letter-spacing="0"  textLength="69.3" lengthAdjust="spacingAndGlyphs">6300 KVA</text>
<text x="1451" y="522.3" font-size="15.5" fill="#2a2a2a" text-anchor="end" font-weight="normal" letter-spacing="0"  textLength="82.6" lengthAdjust="spacingAndGlyphs">D/Y11/Y11-0</text>
<line x1="1527.2" y1="458.4" x2="1532" y2="465.9" stroke="#222" stroke-width="1.7"/>
<path d="M1534.7,462.8 H1690.5 A11,11 0 0 1 1701.5,473.8 V632 A11,11 0 0 1 1690.5,643 H1506.4" stroke="#333333" stroke-width="1.7" fill="none"/>
<line x1="1701.5" y1="516" x2="1713.4" y2="516" stroke="#333333" stroke-width="1.7"/>
<rect x="1553.8" y="482.3" width="126.2" height="47.2" rx="10" stroke="none" fill="#fdf0de" stroke-width="1.7"/>
<text x="1617" y="501.6" font-size="15.5" fill="#2a2a2a" text-anchor="middle" font-weight="normal" letter-spacing="0"  textLength="104.1" lengthAdjust="spacingAndGlyphs">Oil Temp. 65°C</text>
<text x="1617" y="520.2" font-size="15.5" fill="#2a2a2a" text-anchor="middle" font-weight="normal" letter-spacing="0"  textLength="95.7" lengthAdjust="spacingAndGlyphs">Oil Level - Full</text>
<polygon points="1530,488.8 1523.6,500.9 1536.4,500.9" stroke="#222" fill="#fff" stroke-width="1.7"/>
<line x1="1530" y1="517" x2="1500.8" y2="517" stroke="#f63b69" stroke-width="1.7"/>
<rect x="1482.1" y="511.6" width="18.7" height="10.1" rx="0" stroke="#f63b69" fill="#fff" stroke-width="1.7"/>
<line x1="1482.1" y1="517" x2="1469.5" y2="517" stroke="#f63b69" stroke-width="1.7"/>
<line x1="1469.5" y1="510" x2="1469.5" y2="524" stroke="#f63b69" stroke-width="1.4"/>
<line x1="1466.7" y1="512.3" x2="1466.7" y2="521.7" stroke="#f63b69" stroke-width="1.4"/>
<line x1="1464" y1="514.5" x2="1464" y2="519.5" stroke="#f63b69" stroke-width="1.4"/>
<circle cx="1530" cy="517" r="3.6" stroke="#1a1a1a" fill="#1a1a1a" stroke-width="0"/>
<circle cx="1530" cy="549.2" r="17.9" stroke="#f63b69" fill="none" stroke-width="1.7"/>
<polygon points="1530,538.8 1522.7,550.4 1537.3,550.4" stroke="#f63b69" fill="none" stroke-width="1.7"/>
<circle cx="1518.5" cy="572.9" r="17.7" stroke="#2d8ae8" fill="none" stroke-width="1.7"/>
<circle cx="1542.2" cy="572.9" r="17.7" stroke="#2d8ae8" fill="none" stroke-width="1.7"/>
<path d="M1514,566 V573.5 L1506.5,578.5 M1514,573.5 L1521.5,578.5" stroke="#2d8ae8" stroke-width="1.4" fill="none"/>
<path d="M1547,566 V573.5 L1539.5,578.5 M1547,573.5 L1554.5,578.5" stroke="#2d8ae8" stroke-width="1.4" fill="none"/>
<path d="M1514,574.3 H1483 V599" stroke="#2d8ae8" stroke-width="1.7" fill="none"/>
<line x1="1474.0" y1="599.2" x2="1492.0" y2="599.2" stroke="#f5a623" stroke-width="1.7"/>
<line x1="1477.5" y1="602.2" x2="1488.5" y2="602.2" stroke="#f5a623" stroke-width="1.7"/>
<line x1="1481" y1="605.2" x2="1485" y2="605.2" stroke="#f5a623" stroke-width="1.7"/>
<path d="M1547,574.3 H1577.8 V599" stroke="#2d8ae8" stroke-width="1.7" fill="none"/>
<line x1="1568.8" y1="599.2" x2="1586.8" y2="599.2" stroke="#f5a623" stroke-width="1.7"/>
<line x1="1572.3" y1="602.2" x2="1583.3" y2="602.2" stroke="#f5a623" stroke-width="1.7"/>
<line x1="1575.8" y1="605.2" x2="1579.8" y2="605.2" stroke="#f5a623" stroke-width="1.7"/>
<line x1="1518.5" y1="590.6" x2="1518.5" y2="662" stroke="#2d8ae8" stroke-width="1.7"/>
<line x1="1542.2" y1="590.6" x2="1542.2" y2="662" stroke="#2d8ae8" stroke-width="1.7"/>
<line x1="1516" y1="637.5" x2="1521" y2="648" stroke="#222" stroke-width="1.4"/>
<line x1="1539.7" y1="637.5" x2="1544.7" y2="648" stroke="#222" stroke-width="1.4"/>
<text x="1467" y="667.3" font-size="15.5" fill="#2a2a2a" text-anchor="middle" font-weight="normal" letter-spacing="0"  textLength="38.9" lengthAdjust="spacingAndGlyphs">0.8kV</text>
<text x="1459" y="686.3" font-size="15.5" fill="#2a2a2a" text-anchor="middle" font-weight="normal" letter-spacing="0"  textLength="62.3" lengthAdjust="spacingAndGlyphs">Section 1</text>
<text x="1571.5" y="667.3" font-size="15.5" fill="#2a2a2a" text-anchor="start" font-weight="normal" letter-spacing="0"  textLength="38.9" lengthAdjust="spacingAndGlyphs">0.8kV</text>
<text x="1571.5" y="686.3" font-size="15.5" fill="#2a2a2a" text-anchor="start" font-weight="normal" letter-spacing="0"  textLength="64.4" lengthAdjust="spacingAndGlyphs">Section 2</text>
<rect x="1713.4" y="502.8" width="162.2" height="26.5" rx="8" stroke="none" fill="#fdf0de" stroke-width="1.7"/>
<text x="1794.5" y="521.8" font-size="15.5" fill="#2a2a2a" text-anchor="middle" font-weight="normal" letter-spacing="0"  textLength="141.8" lengthAdjust="spacingAndGlyphs">LV Power loss - 1.2%</text>
<text x="647.3" y="540.9000000000001" font-size="15.5" fill="#2a2a2a" text-anchor="start" font-weight="normal" letter-spacing="0"  textLength="129" lengthAdjust="spacingAndGlyphs">Commercial Meter</text>
<rect x="646.9" y="555.7" width="214" height="102.6" rx="12" stroke="none" fill="#fdefdc" stroke-width="1.7"/>
<rect x="647.6999999999999" y="556.5" width="212.4" height="101" rx="11.5" fill="none" stroke="url(#ogr)" stroke-width="1.8"/>
<text x="659.5" y="579.9000000000001" font-size="16" fill="#161616" text-anchor="start" font-weight="bold" letter-spacing="0"  textLength="84.6" lengthAdjust="spacingAndGlyphs">P=4724 kW</text>
<text x="659.5" y="605.1" font-size="15.3" fill="#262626" text-anchor="start" font-weight="normal" letter-spacing="0"  textLength="79.3" lengthAdjust="spacingAndGlyphs">I-A: 150.3 A</text>
<text x="755.3" y="605.1" font-size="15.3" fill="#262626" text-anchor="start" font-weight="normal" letter-spacing="0"  textLength="88" lengthAdjust="spacingAndGlyphs">U-AB: 10.1kV</text>
<text x="659.5" y="623.9" font-size="15.3" fill="#262626" text-anchor="start" font-weight="normal" letter-spacing="0"  textLength="79.3" lengthAdjust="spacingAndGlyphs">I-B: 150.3 A</text>
<text x="755.3" y="623.9" font-size="15.3" fill="#262626" text-anchor="start" font-weight="normal" letter-spacing="0"  textLength="92.3" lengthAdjust="spacingAndGlyphs">U-BC: 10.1 kV</text>
<text x="659.5" y="642.7" font-size="15.3" fill="#262626" text-anchor="start" font-weight="normal" letter-spacing="0"  textLength="80" lengthAdjust="spacingAndGlyphs">I-C: 150.3 A</text>
<text x="755.3" y="642.7" font-size="15.3" fill="#262626" text-anchor="start" font-weight="normal" letter-spacing="0"  textLength="92.3" lengthAdjust="spacingAndGlyphs">U-AC: 10.1 kV</text>
<text x="1223.4" y="540.8000000000001" font-size="15.5" fill="#2a2a2a" text-anchor="start" font-weight="normal" letter-spacing="0"  textLength="90.5" lengthAdjust="spacingAndGlyphs">Check Meter</text>
<rect x="1184.1" y="555.6" width="214" height="102.6" rx="12" stroke="none" fill="#fdefdc" stroke-width="1.7"/>
<text x="1196.6999999999998" y="579.8000000000001" font-size="16" fill="#161616" text-anchor="start" font-weight="bold" letter-spacing="0"  textLength="84.6" lengthAdjust="spacingAndGlyphs">P=4724 kW</text>
<text x="1196.6999999999998" y="605.0" font-size="15.3" fill="#262626" text-anchor="start" font-weight="normal" letter-spacing="0"  textLength="79.3" lengthAdjust="spacingAndGlyphs">I-A: 150.3 A</text>
<text x="1292.7" y="605.0" font-size="15.3" fill="#262626" text-anchor="start" font-weight="normal" letter-spacing="0"  textLength="88" lengthAdjust="spacingAndGlyphs">U-AB: 10.1kV</text>
<text x="1196.6999999999998" y="623.8" font-size="15.3" fill="#262626" text-anchor="start" font-weight="normal" letter-spacing="0"  textLength="79.3" lengthAdjust="spacingAndGlyphs">I-B: 150.3 A</text>
<text x="1292.7" y="623.8" font-size="15.3" fill="#262626" text-anchor="start" font-weight="normal" letter-spacing="0"  textLength="92.3" lengthAdjust="spacingAndGlyphs">U-BC: 10.1 kV</text>
<text x="1196.6999999999998" y="642.6" font-size="15.3" fill="#262626" text-anchor="start" font-weight="normal" letter-spacing="0"  textLength="80" lengthAdjust="spacingAndGlyphs">I-C: 150.3 A</text>
<text x="1292.7" y="642.6" font-size="15.3" fill="#262626" text-anchor="start" font-weight="normal" letter-spacing="0"  textLength="92.3" lengthAdjust="spacingAndGlyphs">U-AC: 10.1 kV</text>
<text x="1908.5" y="540.8000000000001" font-size="15.5" fill="#2a2a2a" text-anchor="start" font-weight="normal" letter-spacing="0"  textLength="170" lengthAdjust="spacingAndGlyphs">Self Consumption Meter</text>
<rect x="1872" y="555.6" width="214" height="102.6" rx="12" stroke="none" fill="#fdefdc" stroke-width="1.7"/>
<text x="1884.6" y="579.8000000000001" font-size="16" fill="#161616" text-anchor="start" font-weight="bold" letter-spacing="0"  textLength="79.6" lengthAdjust="spacingAndGlyphs">P=26.5 kW</text>
<text x="1884.6" y="605.0" font-size="15.3" fill="#262626" text-anchor="start" font-weight="normal" letter-spacing="0"  textLength="73.4" lengthAdjust="spacingAndGlyphs">I-A: 40.3 A</text>
<text x="1980.1" y="605.0" font-size="15.3" fill="#262626" text-anchor="start" font-weight="normal" letter-spacing="0"  textLength="86.3" lengthAdjust="spacingAndGlyphs">U-AB: 220 V</text>
<text x="1884.6" y="623.8" font-size="15.3" fill="#262626" text-anchor="start" font-weight="normal" letter-spacing="0"  textLength="73.4" lengthAdjust="spacingAndGlyphs">I-B: 40.3 A</text>
<text x="1980.1" y="623.8" font-size="15.3" fill="#262626" text-anchor="start" font-weight="normal" letter-spacing="0"  textLength="84.5" lengthAdjust="spacingAndGlyphs">U-BC: 221 V</text>
<text x="1884.6" y="642.6" font-size="15.3" fill="#262626" text-anchor="start" font-weight="normal" letter-spacing="0"  textLength="74" lengthAdjust="spacingAndGlyphs">I-C: 40.3 A</text>
<text x="1980.1" y="642.6" font-size="15.3" fill="#262626" text-anchor="start" font-weight="normal" letter-spacing="0"  textLength="86.3" lengthAdjust="spacingAndGlyphs">U-AC: 220 V</text>
<path d="M794.9,555.6 A3.4,3.4 0 0 0 801.6999999999999,555.6 Z" stroke="#1a1a1a" stroke-width="0.6" fill="#1a1a1a"/>
<path d="M1208.6,555.6 A3.4,3.4 0 0 0 1215.4,555.6 Z" stroke="#1a1a1a" stroke-width="0.6" fill="#1a1a1a"/>
<path d="M1893.3,555.6 A3.4,3.4 0 0 0 1900.1000000000001,555.6 Z" stroke="#1a1a1a" stroke-width="0.6" fill="#1a1a1a"/>
<text x="885" y="497" font-size="15.5" fill="#2a2a2a" text-anchor="start" font-weight="normal" letter-spacing="0"  textLength="298.6" lengthAdjust="spacingAndGlyphs">10kV&#160;&#160;АПВПуГ -3 x -240/50 cable (2800m)</text>
</g>
</svg>
</div></div>
</body></html>
